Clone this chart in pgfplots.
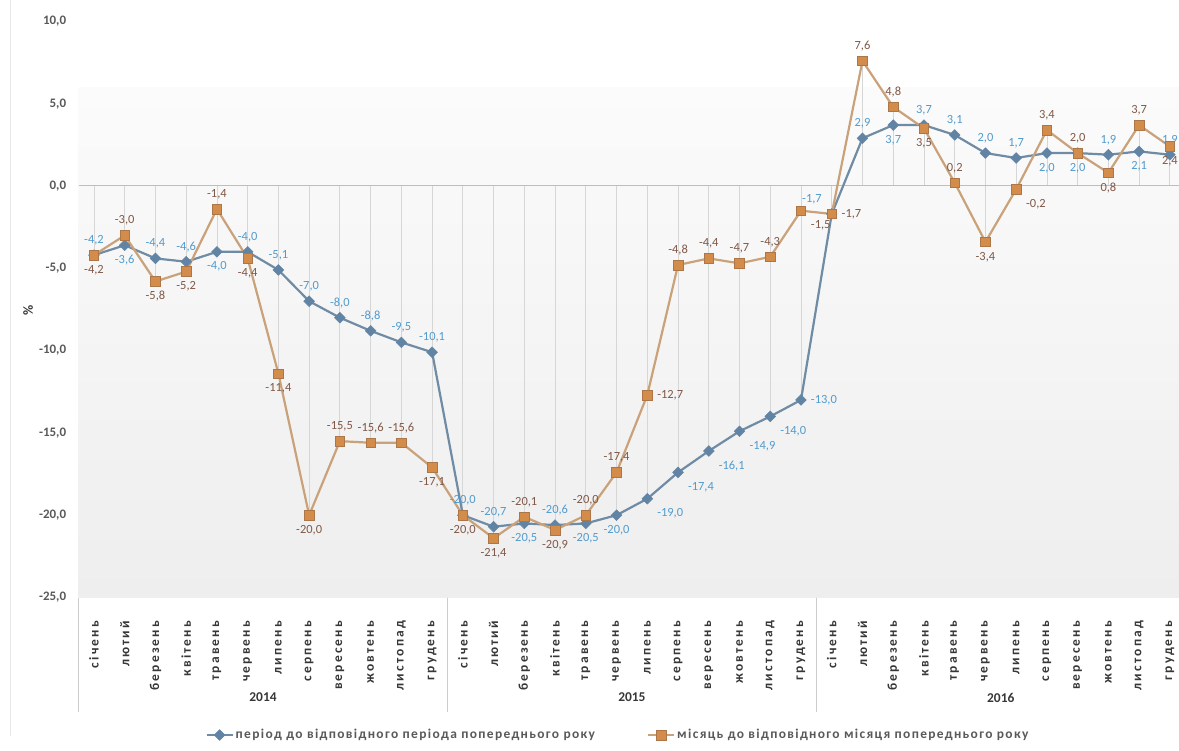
\documentclass[border=0pt]{standalone}
\usepackage{pgfplots}
\pgfplotsset{compat=1.18}
\usepackage{pgfplotstable}
\usepackage{fontspec}
\setmainfont{Carlito}
\newfontfamily\spacedfont[LetterSpace=16]{Carlito}
\newfontfamily\legfont[LetterSpace=10]{Carlito}
\definecolor{serA}{RGB}{112,140,165}
\definecolor{serAm}{RGB}{98,132,164}
\definecolor{serAlbl}{RGB}{82,155,205}
\definecolor{serB}{RGB}{202,162,122}
\definecolor{serBm}{RGB}{212,140,74}
\definecolor{serBmd}{RGB}{172,118,72}
\definecolor{serBlbl}{RGB}{128,88,72}
\definecolor{txt}{RGB}{89,89,89}
\definecolor{dark}{RGB}{55,55,55}
\definecolor{drop}{RGB}{214,214,214}
\definecolor{zeroline}{RGB}{190,190,190}
\definecolor{bgtop}{RGB}{251,251,251}
\definecolor{bgbot}{RGB}{238,238,238}

\pgfplotstableread[col sep=comma]{
x,y,a
0,-4.2,south
1,-3.6,north
2,-4.4,south
3,-4.6,south
4,-4.0,north
5,-4.0,south
6,-5.1,south
7,-7.0,south
8,-8.0,south
9,-8.8,south
10,-9.5,south
11,-10.1,south
12,-20.0,south
13,-20.7,south
14,-20.5,north
15,-20.6,south
16,-20.5,north
17,-20.0,north
18,-19.0,north west
19,-17.4,north west
20,-16.1,north west
21,-14.9,north west
22,-14.0,north west
23,-13.0,west
24,-1.7,south east
25,2.9,south
26,3.7,north
27,3.7,south
28,3.1,south
29,2.0,south
30,1.7,south
31,2.0,north
32,2.0,north
33,1.9,south
34,2.1,north
35,1.9,south
}\periodtab

\pgfplotstableread[col sep=comma]{
x,y,a
0,-4.2,north
1,-3.0,south
2,-5.8,north
3,-5.2,north
4,-1.4,south
5,-4.4,north
6,-11.4,north
7,-20.0,north
8,-15.5,south
9,-15.6,south
10,-15.6,south
11,-17.1,north
12,-20.0,north
13,-21.4,north
14,-20.1,south
15,-20.9,north
16,-20.0,south
17,-17.4,south
18,-12.7,west
19,-4.8,south
20,-4.4,south
21,-4.7,south
22,-4.3,south
23,-1.5,north west
24,-1.7,west
25,7.6,south
26,4.8,south
27,3.5,north
28,0.2,south
29,-3.4,north
30,-0.2,north west
31,3.4,south
32,2.0,south
33,0.8,north
34,3.7,south
35,2.4,north
}\monthtab

\begin{document}
\begin{tikzpicture}
\useasboundingbox (0,0) rectangle (1179bp,751bp);
\draw[gray!18, line width=0.8bp] (10bp,15bp) -- (10bp,751bp);
\begin{axis}[
  x=30.74bp, y=16.46bp,
  anchor=south west, at={(78.6bp,153.5bp)},
  xmin=-0.5, xmax=35.5, ymin=-25, ymax=10,
  axis line style={draw=none},
  clip=false,
  tick style={draw=none},
  xtick={0,1,...,35},
  xticklabels={січень,лютий,березень,квітень,травень,червень,липень,серпень,вересень,жовтень,листопад,грудень,
               січень,лютий,березень,квітень,травень,червень,липень,серпень,вересень,жовтень,листопад,грудень,
               січень,лютий,березень,квітень,травень,червень,липень,серпень,вересень,жовтень,листопад,грудень},
  xticklabel style={rotate=90, anchor=east, font=\spacedfont\bfseries\fontsize{13.5}{15}\selectfont, text=dark},
  xticklabel shift=20bp,
  ytick={-25,-20,...,10},
  yticklabel style={font=\bfseries\fontsize{13}{15}\selectfont, text=txt},
  yticklabel shift=9bp,
  /pgf/number format/fixed,
  /pgf/number format/fixed zerofill,
  /pgf/number format/precision=1,
  /pgf/number format/use comma,
  /pgf/number format/assume math mode=true,
  legend style={at={(0.4874,-0.2387)}, anchor=center, draw=none, fill=none,
    legend columns=2, font=\legfont\bfseries\fontsize{13.5}{15}\selectfont, text=txt,
    /tikz/every even column/.append style={column sep=50bp}},
  legend image code/.code={\draw[mark repeat=2,mark phase=2,#1] plot coordinates {(0bp,0bp) (13bp,0bp) (26bp,0bp)};},
]
\fill[top color=bgtop, bottom color=bgbot]
  (axis cs:-0.5,6) rectangle (axis cs:35.5,-25);
\addplot[ycomb, draw=drop, line width=0.8bp, forget plot, no markers] table[x=x,y=y] {\periodtab};
\addplot[ycomb, draw=drop, line width=0.8bp, forget plot, no markers] table[x=x,y=y] {\monthtab};
\draw[zeroline, line width=1bp] (axis cs:-0.5,0) -- (axis cs:35.5,0);

\addplot[color=serA, line width=2.2bp, mark=square*, mark size=3.8bp,
  mark options={rotate=45, fill=serAm, draw=serAm, line width=0.5bp},
  point meta=explicit symbolic,
  nodes near coords={\pgfmathprintnumber{\pgfkeysvalueof{/data point/y}}},
  every node near coord/.append style={anchor=\pgfplotspointmeta, text=serAlbl,
    font=\fontsize{12.5}{14}\selectfont, inner sep=3bp, outer sep=7bp}]
  table[x=x,y=y,meta=a] {\periodtab};
\addlegendentry{період до відповідного періода попереднього року}

\addplot[color=serB, line width=2.2bp, mark=square*, mark size=4.8bp,
  mark options={fill=serBm, draw=serBmd, line width=0.6bp},
  point meta=explicit symbolic,
  nodes near coords={\pgfmathprintnumber{\pgfkeysvalueof{/data point/y}}},
  every node near coord/.append style={anchor=\pgfplotspointmeta, text=serBlbl,
    font=\fontsize{12.5}{14}\selectfont, inner sep=3bp, outer sep=7bp}]
  table[x=x,y=y,meta=a] {\monthtab};
\addlegendentry{місяць до відповідного місяця попереднього року}

\draw[gray!40, line width=0.8bp] (axis cs:-0.5,-25) -- ++(0bp,-114bp);
\draw[gray!40, line width=0.8bp] (axis cs:11.5,-25) -- ++(0bp,-114bp);
\draw[gray!40, line width=0.8bp] (axis cs:23.5,-25) -- ++(0bp,-114bp);
\draw[gray!40, line width=0.8bp] (axis cs:35.5,-25) -- ++(0bp,-114bp);
\node[font=\bfseries\fontsize{13.5}{15}\selectfont, text=dark, yshift=-100bp] at (axis cs:5.5,-25) {2014};
\node[font=\bfseries\fontsize{13.5}{15}\selectfont, text=dark, yshift=-100bp] at (axis cs:17.5,-25) {2015};
\node[font=\bfseries\fontsize{13.5}{15}\selectfont, text=dark, yshift=-100bp] at (axis cs:29.5,-25) {2016};
\end{axis}
\node[rotate=90, font=\bfseries\fontsize{14}{16}\selectfont, text=dark] at (28bp,441bp) {\%};
\end{tikzpicture}
\end{document}
